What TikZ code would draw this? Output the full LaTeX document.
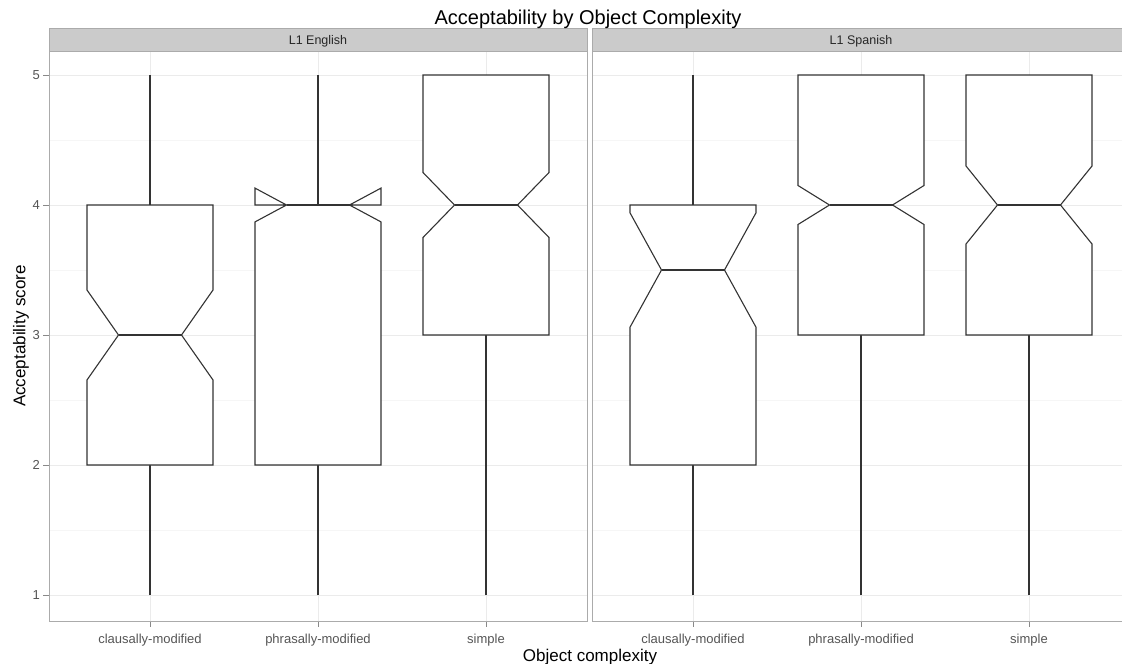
\documentclass[tikz,border=0pt]{standalone}
\usepackage{fontspec}
\setmainfont{Liberation Sans}
\usepackage{xcolor}
\usepackage{tikz}
\usetikzlibrary{positioning}
\definecolor{boxgrey}{HTML}{333333}
\definecolor{gridmajor}{HTML}{EBEBEB}
\definecolor{gridminor}{HTML}{F6F6F6}
\definecolor{bordergrey}{HTML}{ABABAB}
\definecolor{stripgrey}{HTML}{CBCBCB}
\definecolor{ticklab}{HTML}{555555}
\tikzset{whisker/.style = {draw=boxgrey, line width=1.1pt}}

% notched box: x, low whisker, q1, low notch, median, high notch, q3, high whisker
\newcommand{\notchbox}[8]{%
  \draw[whisker] (#1,{725-130*#2}) -- (#1,{725-130*#3});
  \draw[whisker] (#1,{725-130*#7}) -- (#1,{725-130*#8});
  \draw[whisker, fill=white] (#1-63,{725-130*#7}) -- (#1-63,{725-130*#6}) -- (#1-31.5,{725-130*#5})
    -- (#1-63,{725-130*#4}) -- (#1-63,{725-130*#3}) -- (#1+63,{725-130*#3}) -- (#1+63,{725-130*#4})
    -- (#1+31.5,{725-130*#5}) -- (#1+63,{725-130*#6}) -- (#1+63,{725-130*#7}) -- cycle;
  \draw[whisker, line width=2.3pt] (#1-31.5,{725-130*#5}) -- (#1+31.5,{725-130*#5});
}

\begin{document}
\begin{tikzpicture}[x=1pt, y=-1pt,
    major/.style={draw=gridmajor, line width=1pt},
    minor/.style={draw=gridminor, line width=0.6pt},
    tick/.style={draw=bordergrey!80!black, line width=1pt},
    tick label/.style={text=ticklab, font=\fontsize{13}{15}\selectfont, inner sep=0pt},
    strip label/.style={text=black!85, font=\fontsize{12.5}{15}\selectfont, inner sep=0pt, anchor=base},
    axis title/.style={font=\fontsize{17}{20}\selectfont, inner sep=0pt}]
  \clip (0,0) rectangle (1122,664);
  \fill[white] (0,0) rectangle (1122,664);

  % panels: L1 English at 0, L1 Spanish shifted by 543
  \foreach \p in {0,543} {
    \foreach \v in {1.5,2.5,3.5,4.5}
      \draw[minor] (49+\p,{725-130*\v}) -- (587+\p,{725-130*\v});
    \foreach \v in {1,...,5}
      \draw[major] (49+\p,{725-130*\v}) -- (587+\p,{725-130*\v});
    \foreach \c in {150,318,486} {
      \draw[major] (\c+\p,51) -- (\c+\p,621);
      \draw[tick] (\c+\p,621) -- (\c+\p,627);
    }
  }

  \notchbox{150}{1}{2}{2.654}{3}{3.346}{4}{5}
  \notchbox{318}{1}{2}{3.87}{4}{4.13}{4}{5}
  \notchbox{486}{1}{3}{3.75}{4}{4.25}{5}{5}
  \notchbox{693}{1}{2}{3.06}{3.5}{3.94}{4}{5}
  \notchbox{861}{1}{3}{3.85}{4}{4.15}{5}{5}
  \notchbox{1029}{1}{3}{3.7}{4}{4.3}{5}{5}

  \foreach \p in {0,543} {
    \draw[bordergrey, line width=1pt] (49+\p,51) rectangle (587+\p,621);
    \draw[bordergrey, fill=stripgrey, line width=1pt] (49+\p,28) rectangle (587+\p,51);
  }
  \node[strip label] (english) at (318,44) {L1 English};
  \node[strip label] (spanish) at (861,44) {L1 Spanish};

  \foreach \v in {1,...,5} {
    \draw[tick] (43,{725-130*\v}) -- (49,{725-130*\v});
    \node[tick label, anchor=east] (y\v) at (40,{725-130*\v}) {\v};
  }
  \foreach \c/\name/\txt in {150/cm/clausally-modified, 318/pm/phrasally-modified, 486/si/simple} {
    \node[tick label, anchor=base] (en\name) at (\c,643) {\txt};
    \node[tick label, anchor=base] (es\name) at (\c+543,643) {\txt};
  }

  \node[font=\fontsize{20}{24}\selectfont, inner sep=0pt, anchor=base] (title) at (588,24) {Acceptability by Object Complexity};
  \node[axis title, anchor=base] (xlab) at (590,661) {Object complexity};
  \node[axis title, rotate=90] (ylab) at (21,336) {Acceptability score};
\end{tikzpicture}
\end{document}
